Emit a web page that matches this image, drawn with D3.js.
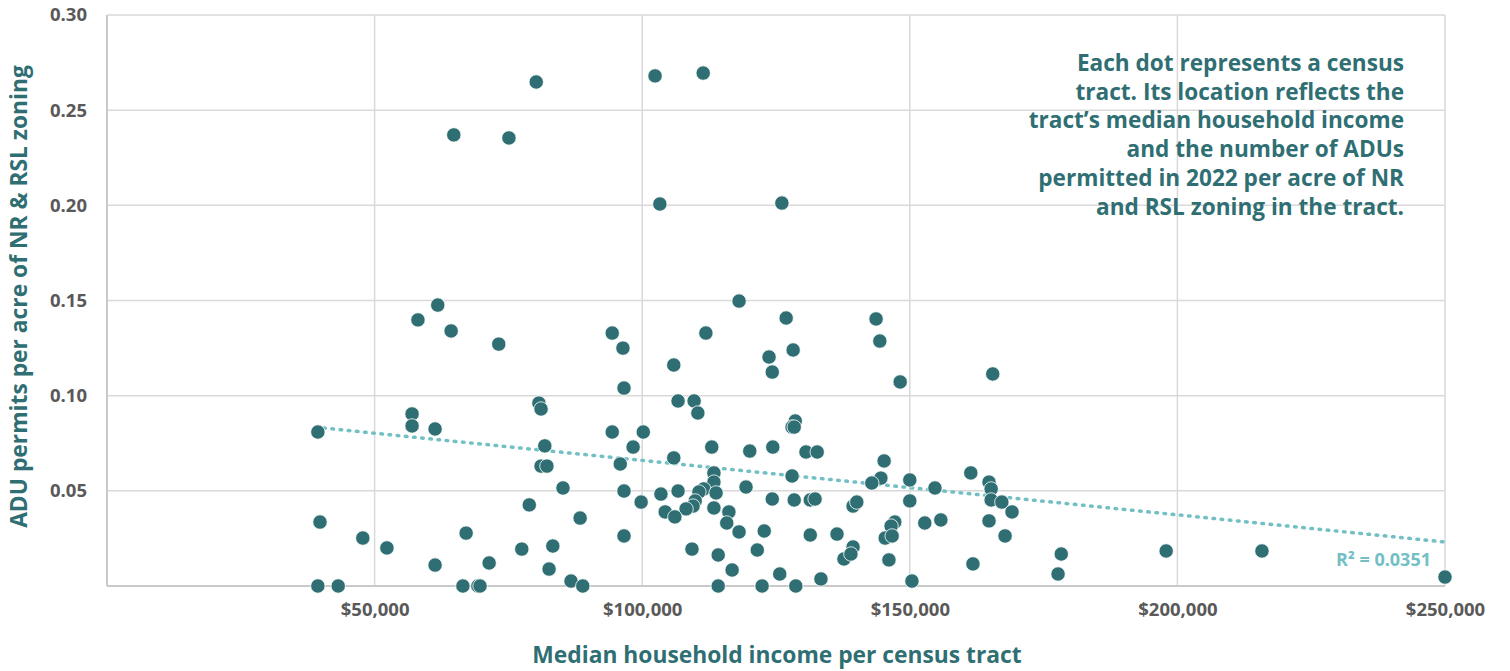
<!DOCTYPE html>
<html>
<head>
<meta charset="utf-8">
<script src="https://cdn.jsdelivr.net/npm/d3@7"></script>
<style>
  html, body { margin: 0; padding: 0; background: #ffffff; }
  svg { display: block; font-family: "Open Sans", "Noto Sans", sans-serif; }
</style>
</head>
<body>
<svg id="chart" width="1510" height="671"></svg>
<script>
// Median household income per census tract (USD)
const incomes = [
  39400, 39800, 39400, 43200, 47800, 52300, 61800, 58100, 64300, 73200,
  80700, 81100, 57000, 57000, 61300, 81800, 81100, 82200, 61300, 67100,
  71400, 78900, 77500, 83300, 82600, 66500, 69300, 69700, 64800, 80200,
  75100, 102400, 111400, 103300, 126100, 118100, 126900, 94400, 96400, 111900,
  128200, 123700, 124300, 105900, 96600, 106700, 109700, 110400, 128600, 128000,
  128400, 94400, 100200, 98300, 95900, 105900, 113000, 120100, 124400, 128000,
  113400, 113400, 111500, 110600, 113800, 109900, 109500, 108200, 113400, 116200,
  115800, 118100, 122800, 119400, 124300, 128400, 85200, 88400, 96600, 99800,
  103500, 106700, 104300, 106100, 96600, 109300, 114200, 121500, 116800, 125700,
  86700, 88900, 114200, 122400, 128700, 143700, 144400, 148200, 165500, 130600,
  132700, 145200, 144600, 142900, 150000, 154700, 161400, 164800, 165200, 165200,
  167200, 169100, 131400, 132300, 139400, 140100, 150000, 152800, 155800, 164800,
  167800, 147200, 146500, 145400, 146700, 131400, 136400, 139400, 137700, 139000,
  146100, 161800, 133400, 150400, 178300, 177700, 197900, 215800, 250000
];
// ADU permits per acre of NR & RSL zoning
const permits = [
  0.0809, 0.0336, 0.0000, 0.0000, 0.0252, 0.0200, 0.1476, 0.1398, 0.1340, 0.1271,
  0.0961, 0.0930, 0.0904, 0.0841, 0.0825, 0.0736, 0.0630, 0.0630, 0.0110, 0.0278,
  0.0121, 0.0426, 0.0194, 0.0210, 0.0089, 0.0000, 0.0000, 0.0000, 0.2370, 0.2648,
  0.2354, 0.2680, 0.2695, 0.2007, 0.2012, 0.1497, 0.1408, 0.1329, 0.1250, 0.1329,
  0.1240, 0.1203, 0.1124, 0.1161, 0.1040, 0.0972, 0.0972, 0.0909, 0.0867, 0.0835,
  0.0835, 0.0809, 0.0809, 0.0730, 0.0641, 0.0673, 0.0730, 0.0709, 0.0730, 0.0578,
  0.0594, 0.0546, 0.0510, 0.0494, 0.0489, 0.0447, 0.0420, 0.0405, 0.0410, 0.0389,
  0.0331, 0.0284, 0.0289, 0.0520, 0.0457, 0.0452, 0.0515, 0.0357, 0.0499, 0.0441,
  0.0483, 0.0499, 0.0389, 0.0363, 0.0263, 0.0194, 0.0163, 0.0189, 0.0084, 0.0063,
  0.0026, 0.0000, 0.0000, 0.0000, 0.0000, 0.1403, 0.1287, 0.1072, 0.1114, 0.0704,
  0.0704, 0.0657, 0.0567, 0.0541, 0.0557, 0.0515, 0.0594, 0.0546, 0.0510, 0.0452,
  0.0441, 0.0389, 0.0452, 0.0457, 0.0420, 0.0441, 0.0447, 0.0331, 0.0347, 0.0342,
  0.0263, 0.0336, 0.0315, 0.0252, 0.0263, 0.0268, 0.0273, 0.0205, 0.0142, 0.0168,
  0.0137, 0.0116, 0.0037, 0.0026, 0.0168, 0.0063, 0.0184, 0.0184, 0.0047
];
// Linear trend line
const trendIncome = [40500, 250000];
const trendPermits = [0.0830, 0.0231];
const rSquaredLabel = "R² = 0.0351";

const xTicks = [50000, 100000, 150000, 200000, 250000];
const yTicks = [0.05, 0.10, 0.15, 0.20, 0.25, 0.30];
const xTitle = "Median household income per census tract";
const yTitle = "ADU permits per acre of NR & RSL zoning";
const noteLines = [
  "Each dot represents a census",
  "tract. Its location reflects the",
  "tract\u2019s median household income",
  "and the number of ADUs",
  "permitted in 2022 per acre of NR",
  "and RSL zoning in the tract."
];

(function () {
const svg = d3.select("#chart");
const pLeft = 107, pRight = 1445, pTop = 15, pBottom = 586;
const teal = "#2f6e72";
const titleColor = "#2f6f73";
const tickColor = "#595959";

const x = d3.scaleLinear().domain([0, 250000]).range([pLeft, pRight]);
const y = d3.scaleLinear().domain([0, 0.30]).range([pBottom, pTop]);

// Gridlines
const grid = svg.append("g");
grid.selectAll("line.h").data(yTicks).join("line").attr("class", "h")
  .attr("x1", pLeft).attr("x2", pRight)
  .attr("y1", d => y(d)).attr("y2", d => y(d))
  .attr("stroke", "#d9d9d9").attr("stroke-width", 1.5);
grid.selectAll("line.v").data(xTicks).join("line").attr("class", "v")
  .attr("y1", pTop).attr("y2", pBottom)
  .attr("x1", d => x(d)).attr("x2", d => x(d))
  .attr("stroke", "#d9d9d9").attr("stroke-width", 1.5);

// Axis lines
svg.append("line").attr("x1", pLeft).attr("x2", pRight).attr("y1", pBottom).attr("y2", pBottom)
  .attr("stroke", "#c9c9c9").attr("stroke-width", 2);
svg.append("line").attr("x1", pLeft).attr("x2", pLeft).attr("y1", pTop).attr("y2", pBottom)
  .attr("stroke", "#c9c9c9").attr("stroke-width", 2);

// Axis tick labels via d3 axes
const fmtX = d => "$" + d3.format(",")(d);
const xAxis = svg.append("g").attr("transform", `translate(0,${pBottom})`)
  .call(d3.axisBottom(x).tickValues(xTicks).tickFormat(fmtX).tickSize(0).tickPadding(17));
const yAxis = svg.append("g").attr("transform", `translate(${pLeft},0)`)
  .call(d3.axisLeft(y).tickValues(yTicks).tickFormat(d3.format(".2f")).tickSize(0).tickPadding(20));
[xAxis, yAxis].forEach(a => {
  a.select(".domain").remove();
  a.selectAll("text").attr("fill", tickColor).attr("font-size", 18.5).attr("font-weight", 700)
    .attr("font-family", '"Open Sans", sans-serif');
});

// Trend line
svg.append("path")
  .datum(trendIncome.map((d, i) => [d, trendPermits[i]]))
  .attr("d", d3.line().x(d => x(d[0])).y(d => y(d[1])))
  .attr("fill", "none").attr("stroke", "#72c0c5").attr("stroke-width", 3.5)
  .attr("stroke-linecap", "round").attr("stroke-dasharray", "1.6,6.6");

// Dots
svg.append("g").selectAll("circle")
  .data(incomes.map((d, i) => [d, permits[i]]))
  .join("circle")
  .attr("cx", d => x(d[0])).attr("cy", d => y(d[1])).attr("r", 7.2)
  .attr("fill", teal).attr("stroke", "#ffffff").attr("stroke-width", 0.8);

// R² label
svg.append("text").attr("x", 1431).attr("y", 566).attr("text-anchor", "end")
  .attr("fill", "#72c0c5").attr("font-size", 18).attr("font-weight", 700)
  .text(rSquaredLabel);

// Note
svg.append("g").selectAll("text").data(noteLines).join("text")
  .attr("x", 1404).attr("y", (d, i) => 71 + i * 28.7)
  .attr("text-anchor", "end").attr("fill", titleColor)
  .attr("font-size", 22.6).attr("font-weight", 700).text(d => d);

// Axis titles
svg.append("text").attr("x", (pLeft + pRight) / 2 + 1).attr("y", 663)
  .attr("text-anchor", "middle").attr("fill", titleColor)
  .attr("font-size", 22.8).attr("font-weight", 700).text(xTitle);
svg.append("text").attr("transform", `translate(27,${(pTop + pBottom) / 2 - 4}) rotate(-90)`)
  .attr("text-anchor", "middle").attr("fill", titleColor)
  .attr("font-size", 22.8).attr("font-weight", 700).text(yTitle);
})();
</script>
</body>
</html>
